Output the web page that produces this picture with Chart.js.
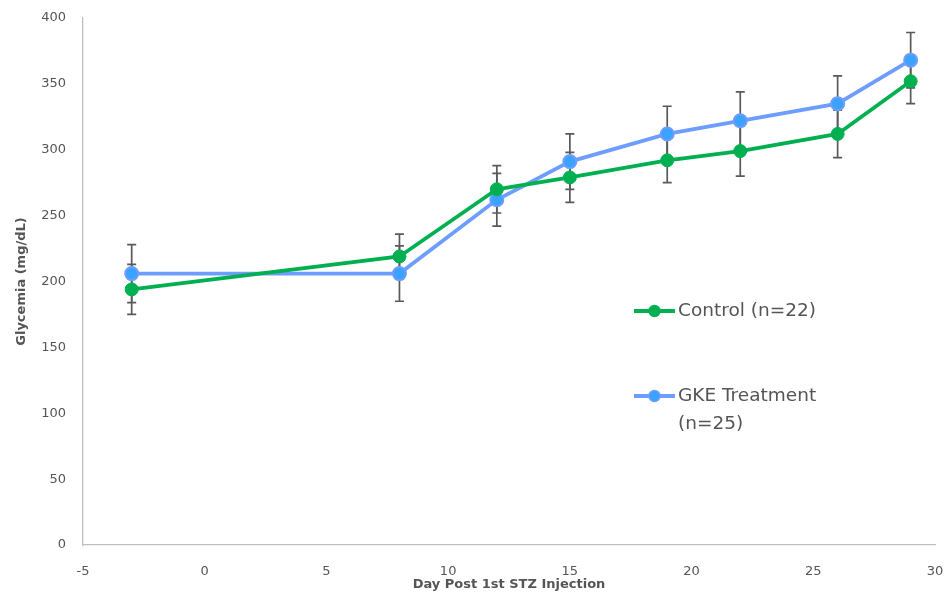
<!DOCTYPE html>
<html>
<head>
<meta charset="utf-8">
<script src="https://cdn.jsdelivr.net/npm/chart.js@4.4.0/dist/chart.umd.min.js"></script>
<style>
  html, body { margin: 0; padding: 0; background: #fff; overflow: hidden; }
  #wrap { width: 949px; height: 598px; position: relative; }
</style>
</head>
<body>
<div id="wrap"><canvas id="c" width="949" height="598"></canvas></div>
<script>
// ---- data ----
const days = [-3, 8, 12, 15, 19, 22, 26, 29];
const controlMean = [194, 219, 270, 279, 292, 299, 312, 352];
const controlErr  = [19, 17, 18, 19, 17, 19, 18, 17];
const gkeMean     = [206, 206, 262, 291, 312, 322, 335, 368];
const gkeErr      = [22, 21, 20, 21, 21, 22, 21, 21];
const seriesNames = ['Control (n=22)', ['GKE Treatment', '(n=25)']];
const xTicks = [-5, 0, 5, 10, 15, 20, 25, 30];
const yTicks = [0, 50, 100, 150, 200, 250, 300, 350, 400];

const GREEN = '#00B050';
const BLUE = '#6D9EFF';
const BLUE_FILL = '#3AA2FF';
const TEXT = '#555555';
const FONT = '"DejaVu Sans", sans-serif';

const toPts = (xs, ys) => xs.map((x, i) => ({ x: x, y: ys[i] }));

const errorBars = {
  id: 'errorBars',
  beforeDatasetsDraw(chart) {
    const ctx = chart.ctx;
    const xs = chart.scales.x, ys = chart.scales.y;
    const sets = [[controlMean, controlErr], [gkeMean, gkeErr]];
    ctx.save();
    ctx.strokeStyle = '#595959';
    ctx.lineWidth = 1.7;
    sets.forEach(([m, e]) => {
      days.forEach((d, i) => {
        const px = xs.getPixelForValue(d);
        const top = ys.getPixelForValue(m[i] + e[i]);
        const bot = ys.getPixelForValue(m[i] - e[i]);
        ctx.beginPath();
        ctx.moveTo(px, top); ctx.lineTo(px, bot);
        ctx.moveTo(px - 4.5, top); ctx.lineTo(px + 4.5, top);
        ctx.moveTo(px - 4.5, bot); ctx.lineTo(px + 4.5, bot);
        ctx.stroke();
      });
    });
    ctx.restore();
  }
};

const customLegend = {
  id: 'customLegend',
  afterDraw(chart) {
    const ctx = chart.ctx;
    const items = [
      { y: 311, color: GREEN, fill: GREEN, lines: [seriesNames[0]] },
      { y: 396, color: BLUE, fill: BLUE_FILL, lines: seriesNames[1] }
    ];
    ctx.save();
    items.forEach(it => {
      ctx.strokeStyle = it.color;
      ctx.lineWidth = 3.8;
      ctx.beginPath();
      ctx.moveTo(634, it.y); ctx.lineTo(675, it.y);
      ctx.stroke();
      ctx.beginPath();
      ctx.arc(654.5, it.y, 5.5, 0, Math.PI * 2);
      ctx.fillStyle = it.fill;
      ctx.fill();
      ctx.lineWidth = 1.5;
      ctx.strokeStyle = it.color;
      ctx.stroke();
      ctx.fillStyle = TEXT;
      ctx.font = '18.5px ' + FONT;
      ctx.textBaseline = 'middle';
      ctx.textAlign = 'left';
      it.lines.forEach((t, k) => ctx.fillText(t, 678, it.y + k * 28.5));
    });
    ctx.restore();
  }
};

new Chart(document.getElementById('c'), {
  type: 'line',
  data: {
    datasets: [
      {
        label: 'Control (n=22)',
        data: toPts(days, controlMean),
        borderColor: GREEN,
        backgroundColor: GREEN,
        pointBackgroundColor: GREEN,
        pointBorderColor: GREEN,
        borderWidth: 3.8,
        pointRadius: 6.5,
        pointBorderWidth: 1,
        tension: 0
      },
      {
        label: 'GKE Treatment (n=25)',
        data: toPts(days, gkeMean),
        borderColor: BLUE,
        backgroundColor: BLUE_FILL,
        pointBackgroundColor: BLUE_FILL,
        pointBorderColor: BLUE,
        borderWidth: 3.8,
        pointRadius: 6.5,
        pointBorderWidth: 2,
        tension: 0
      }
    ]
  },
  options: {
    responsive: false,
    animation: false,
    devicePixelRatio: 1,
    layout: { padding: { top: 18, right: 14, left: 0, bottom: 0 } },
    plugins: { legend: { display: false }, tooltip: { enabled: false } },
    scales: {
      x: {
        type: 'linear',
        min: -5, max: 30,
        afterBuildTicks: s => { s.ticks = xTicks.map(v => ({ value: v })); },
        afterFit: s => { s.height = 53; s.paddingLeft = 0; s.paddingRight = 0; },
        grid: { display: false, drawTicks: false },
        border: { color: '#BFBFBF', width: 1.3 },
        ticks: { color: TEXT, font: { family: FONT, size: 13 }, padding: 19, maxRotation: 0 },
        title: {
          display: true, text: 'Day Post 1st STZ Injection',
          color: TEXT, font: { family: FONT, size: 13, weight: 'bold' },
          padding: { top: 0, bottom: 6 }
        }
      },
      y: {
        min: 0, max: 400,
        afterBuildTicks: s => { s.ticks = yTicks.map(v => ({ value: v })); },
        afterFit: s => { s.width = 83; s.paddingTop = 0; s.paddingBottom = 0; },
        grid: { display: false, drawTicks: false },
        border: { color: '#BFBFBF', width: 1.3 },
        ticks: { color: TEXT, font: { family: FONT, size: 13 }, padding: 17 },
        title: {
          display: true, text: 'Glycemia (mg/dL)',
          color: TEXT, font: { family: FONT, size: 13, weight: 'bold' },
          padding: { top: 14, bottom: 0 }
        }
      }
    }
  },
  plugins: [errorBars, customLegend]
});
</script>
</body>
</html>
